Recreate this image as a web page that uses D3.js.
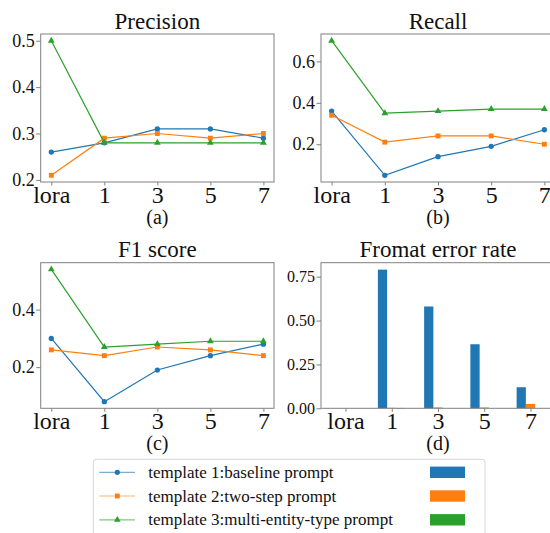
<!DOCTYPE html>
<html>
<head>
<meta charset="utf-8">
<script src="https://cdn.jsdelivr.net/npm/d3@7"></script>
<style>
  body { margin: 0; background: #fff; }
  svg { display: block; }
</style>
</head>
<body>
<script>
const categories = ['lora', '1', '3', '5', '7'];
const seriesNames = [
  'template 1:baseline prompt',
  'template 2:two-step prompt',
  'template 3:multi-entity-type prompt'
];
const colors = ['#1f77b4', '#ff7f0e', '#2ca02c'];

// values
const precisionT1 = [0.26, 0.28, 0.31, 0.31, 0.29];
const precisionT2 = [0.21, 0.29, 0.30, 0.29, 0.30];
const precisionT3 = [0.50, 0.28, 0.28, 0.28, 0.28];

const recallT1 = [0.36, 0.05, 0.14, 0.19, 0.27];
const recallT2 = [0.34, 0.21, 0.24, 0.24, 0.20];
const recallT3 = [0.70, 0.35, 0.36, 0.37, 0.37];

const f1T1 = [0.30, 0.08, 0.19, 0.24, 0.28];
const f1T2 = [0.26, 0.24, 0.27, 0.26, 0.24];
const f1T3 = [0.54, 0.27, 0.28, 0.29, 0.29];

const errorT1 = [0, 0.79, 0.58, 0.365, 0.12];
const errorT2 = [0, 0.003, 0.005, 0.005, 0.025];
const errorT3 = [0, 0.002, 0, 0, 0];

const precisionTicks = [0.2, 0.3, 0.4, 0.5];
const recallTicks = [0.2, 0.4, 0.6];
const f1Ticks = [0.2, 0.4];
const errorTicks = [0, 0.25, 0.5, 0.75];

const serif = '"Liberation Serif", "Times New Roman", serif';
const spine = '#808080';
const svg = d3.select('body').append('svg')
  .attr('width', 550)
  .attr('height', 533)
  .style('font-family', serif);

// matplotlib style 5% margins
function padDomain(lo, hi) {
  const m = (hi - lo) * 0.05;
  return [lo - m, hi + m];
}

function drawFrame(p, x, y, yTicks, yFmt, yFont) {
  const g = svg.append('g');

  const yAxis = g.append('g')
    .attr('transform', `translate(${p.left},0)`)
    .call(d3.axisLeft(y).tickValues(yTicks).tickFormat(yFmt).tickSize(4.5).tickPadding(1.5))
    .attr('font-family', null).attr('font-size', null);
  yAxis.select('.domain').remove();
  yAxis.selectAll('line').attr('stroke', spine);
  yAxis.selectAll('text').attr('fill', '#111').style('font-size', yFont + 'px').style('font-family', serif);

  const xAxis = g.append('g')
    .attr('transform', `translate(0,${p.bottom})`)
    .call(d3.axisBottom(x).tickValues([0, 1, 2, 3, 4]).tickFormat(i => categories[i]).tickSize(3.5))
    .attr('font-family', null).attr('font-size', null);
  xAxis.select('.domain').remove();
  xAxis.selectAll('line').attr('stroke', spine);
  xAxis.selectAll('text')
    .attr('y', 20.7).attr('dy', 0)
    .attr('fill', '#111').style('font-size', '24px').style('font-family', serif);

  g.append('rect')
    .attr('x', p.left).attr('y', p.top)
    .attr('width', p.right - p.left).attr('height', p.bottom - p.top)
    .attr('fill', 'none').attr('stroke', spine).attr('stroke-width', 1);

  g.append('text')
    .attr('x', (p.left + p.right) / 2).attr('y', p.titleY)
    .attr('text-anchor', 'middle').style('font-size', '23px').attr('fill', '#111')
    .text(p.title);

  g.append('text')
    .attr('x', (p.left + p.right) / 2).attr('y', p.bottom + 41.5)
    .attr('text-anchor', 'middle').style('font-size', '20px').attr('fill', '#111')
    .text(p.caption);

  return g;
}

const symbols = [d3.symbolCircle, d3.symbolSquare, d3.symbolTriangle];
const symbolSizes = [22, 24, 20];

function linePanel(p, series, yTicks) {
  const all = series.flat();
  const x = d3.scaleLinear().domain([-0.2, 4.2]).range([p.left, p.right]);
  const y = d3.scaleLinear().domain(padDomain(d3.min(all), d3.max(all))).range([p.bottom, p.top]);
  const g = drawFrame(p, x, y, yTicks, d3.format('.1f'), 18);

  const line = d3.line().x((d, i) => x(i)).y(d => y(d));
  series.forEach((vals, s) => {
    g.append('path')
      .datum(vals)
      .attr('d', line)
      .attr('fill', 'none')
      .attr('stroke', colors[s])
      .attr('stroke-width', 1.2);
    g.selectAll(null)
      .data(vals)
      .join('path')
      .attr('transform', (d, i) => `translate(${x(i)},${y(d)})`)
      .attr('d', d3.symbol().type(symbols[s]).size(symbolSizes[s]))
      .attr('fill', colors[s]);
  });
}

function barPanel(p, series, yTicks) {
  const all = series.flat();
  const x = d3.scaleLinear().domain([-0.53, 4.53]).range([p.left, p.right]);
  const y = d3.scaleLinear().domain([0, d3.max(all) * 1.05]).range([p.bottom, p.top]);
  const bw = x(0.2) - x(0);

  // bars first, frame on top
  const bars = svg.append('g');
  series.forEach((vals, s) => {
    bars.selectAll(null)
      .data(vals)
      .join('rect')
      .attr('x', (d, i) => x(i + (s - 1) * 0.2 - 0.1))
      .attr('y', d => y(d))
      .attr('width', bw)
      .attr('height', d => y(0) - y(d))
      .attr('fill', colors[s]);
  });
  drawFrame(p, x, y, yTicks, d3.format('.2f'), 16);
}

linePanel({ title: 'Precision', caption: '(a)', left: 40.7, right: 274, top: 34, bottom: 182, titleY: 29.3 },
  [precisionT1, precisionT2, precisionT3], precisionTicks);
linePanel({ title: 'Recall', caption: '(b)', left: 321, right: 555, top: 34, bottom: 182, titleY: 29.3 },
  [recallT1, recallT2, recallT3], recallTicks);
linePanel({ title: 'F1 score', caption: '(c)', left: 40.7, right: 274, top: 262.7, bottom: 408.3, titleY: 256.5 },
  [f1T1, f1T2, f1T3], f1Ticks);
barPanel({ title: 'Fromat error rate', caption: '(d)', left: 321, right: 555, top: 262.7, bottom: 408.3, titleY: 256.5 },
  [errorT1, errorT2, errorT3], errorTicks);

// legend: line handles with labels, bar patches in a second column
const legend = svg.append('g');
legend.append('rect')
  .attr('x', 93.3).attr('y', 459.3)
  .attr('width', 391.7).attr('height', 80)
  .attr('rx', 3)
  .attr('fill', '#fff').attr('stroke', '#d6d6d6');

const rowY = [472.3, 496, 519.8];
seriesNames.forEach((name, s) => {
  const ry = rowY[s];
  legend.append('line')
    .attr('x1', 99.3).attr('x2', 135).attr('y1', ry).attr('y2', ry)
    .attr('stroke', colors[s]).attr('stroke-width', 1.2).attr('stroke-opacity', 0.6);
  legend.append('path')
    .attr('transform', `translate(117.3,${ry})`)
    .attr('d', d3.symbol().type(symbols[s]).size(symbolSizes[s]))
    .attr('fill', colors[s]);
  legend.append('text')
    .attr('x', 148.3).attr('y', ry).attr('dy', '0.33em')
    .style('font-size', '17px').attr('fill', '#111')
    .text(name);
  legend.append('rect')
    .attr('x', 430).attr('y', ry - 5.7)
    .attr('width', 35).attr('height', 11.4)
    .attr('fill', colors[s]);
});
</script>
</body>
</html>
